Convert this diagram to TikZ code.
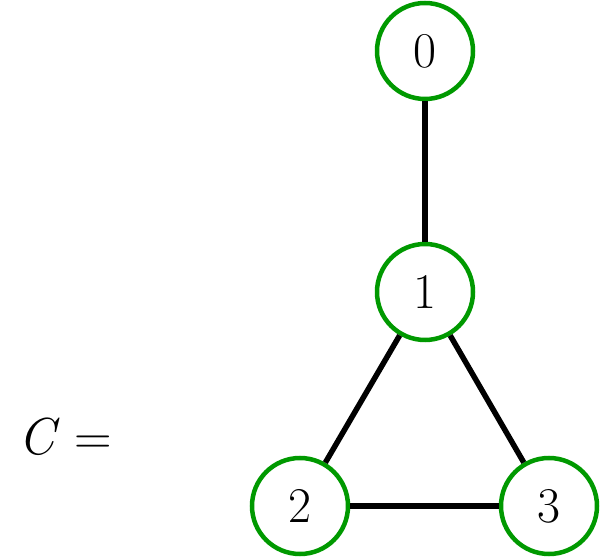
\documentclass[tikz,border=0pt]{standalone}
\usepackage{fontspec}
\begin{document}
\begin{tikzpicture}[x=1pt,y=1pt,
  vtx/.style={circle,draw={rgb,255:red,0;green,153;blue,0},line width=4.5pt,minimum size=96pt,inner sep=0pt,font=\fontsize{50}{60}\selectfont},
  edge/.style={line width=5.5pt,black}]
\useasboundingbox (0,0) rectangle (600,557);
\node[vtx] (n0) at (425,506) {0};
\node[vtx] (n1) at (425,265) {1};
\node[vtx] (n2) at (300,51) {2};
\node[vtx] (n3) at (549,51) {3};
\draw[edge] (n0) -- (n1);
\draw[edge] (n1) -- (n2);
\draw[edge] (n1) -- (n3);
\draw[edge] (n2) -- (n3);
\node[font=\fontsize{52}{62}\selectfont] (lbl) at (65,120) {\textit{C}\hspace{14pt}=};
\end{tikzpicture}
\end{document}
